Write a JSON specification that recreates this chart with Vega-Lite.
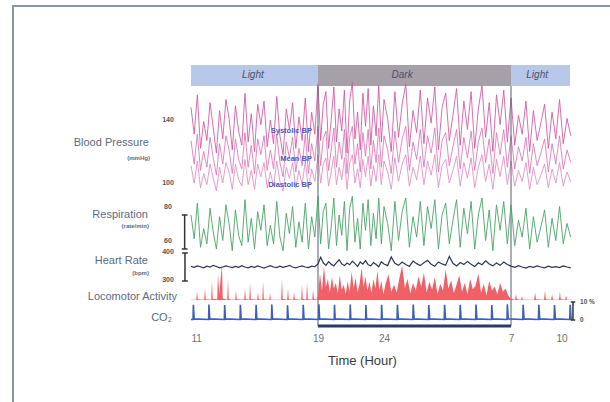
{
"$schema": "https://vega.github.io/schema/vega-lite/v6.json",
"width": 600, "height": 400,
"autosize": {"type": "none"},
"padding": {"left": 13, "top": 6, "right": 0, "bottom": 0},
"background": "white",
"config": {"view": {"stroke": "#8795a5", "strokeWidth": 2}, "font": "Liberation Sans"},
"datasets": {
"main": [
{"t":11.0,"s":148,"m":127,"d":111,"r":80,"h":352},
{"t":11.2,"s":131,"m":112,"d":100,"r":66,"h":349},
{"t":11.4,"s":156,"m":131,"d":114,"r":87,"h":354},
{"t":11.6,"s":122,"m":108,"d":97,"r":61,"h":351},
{"t":11.8,"s":139,"m":120,"d":106,"r":72,"h":347},
{"t":12.0,"s":127,"m":110,"d":99,"r":63,"h":353},
{"t":12.2,"s":151,"m":129,"d":112,"r":84,"h":350},
{"t":12.4,"s":135,"m":116,"d":103,"r":70,"h":356},
{"t":12.6,"s":119,"m":105,"d":95,"r":60,"h":352},
{"t":12.8,"s":146,"m":125,"d":110,"r":79,"h":347},
{"t":13.0,"s":128,"m":112,"d":100,"r":65,"h":350},
{"t":13.2,"s":153,"m":130,"d":113,"r":86,"h":354},
{"t":13.4,"s":141,"m":121,"d":107,"r":75,"h":351},
{"t":13.6,"s":121,"m":106,"d":96,"r":59,"h":348},
{"t":13.8,"s":149,"m":128,"d":112,"r":83,"h":352},
{"t":14.0,"s":133,"m":115,"d":102,"r":68,"h":349},
{"t":14.2,"s":124,"m":109,"d":98,"r":62,"h":355},
{"t":14.4,"s":157,"m":132,"d":115,"r":89,"h":350},
{"t":14.6,"s":126,"m":110,"d":99,"r":64,"h":347},
{"t":14.8,"s":144,"m":124,"d":108,"r":78,"h":352},
{"t":15.0,"s":120,"m":106,"d":96,"r":60,"h":349},
{"t":15.2,"s":150,"m":128,"d":112,"r":82,"h":354},
{"t":15.4,"s":137,"m":118,"d":104,"r":71,"h":350},
{"t":15.6,"s":152,"m":130,"d":113,"r":86,"h":346},
{"t":15.8,"s":123,"m":108,"d":97,"r":62,"h":351},
{"t":16.0,"s":140,"m":121,"d":107,"r":74,"h":355},
{"t":16.2,"s":125,"m":109,"d":98,"r":63,"h":350},
{"t":16.4,"s":155,"m":131,"d":114,"r":88,"h":348},
{"t":16.6,"s":130,"m":113,"d":101,"r":67,"h":353},
{"t":16.8,"s":118,"m":104,"d":95,"r":59,"h":349},
{"t":17.0,"s":147,"m":126,"d":110,"r":81,"h":352},
{"t":17.2,"s":134,"m":116,"d":103,"r":69,"h":356},
{"t":17.4,"s":151,"m":129,"d":113,"r":85,"h":350},
{"t":17.6,"s":122,"m":107,"d":97,"r":61,"h":347},
{"t":17.8,"s":142,"m":122,"d":108,"r":76,"h":351},
{"t":18.0,"s":127,"m":111,"d":99,"r":64,"h":354},
{"t":18.2,"s":154,"m":131,"d":114,"r":87,"h":350},
{"t":18.4,"s":120,"m":106,"d":96,"r":60,"h":348},
{"t":18.6,"s":145,"m":125,"d":109,"r":79,"h":353},
{"t":18.8,"s":131,"m":114,"d":101,"r":67,"h":351},
{"t":19.0,"s":163,"m":136,"d":118,"r":91,"h":361},
{"t":19.2,"s":127,"m":111,"d":100,"r":63,"h":385},
{"t":19.4,"s":150,"m":128,"d":112,"r":82,"h":365},
{"t":19.6,"s":158,"m":133,"d":116,"r":87,"h":356},
{"t":19.8,"s":122,"m":108,"d":98,"r":60,"h":369},
{"t":20.0,"s":140,"m":121,"d":107,"r":73,"h":360},
{"t":20.2,"s":161,"m":135,"d":117,"r":90,"h":354},
{"t":20.4,"s":126,"m":110,"d":99,"r":62,"h":366},
{"t":20.6,"s":147,"m":126,"d":110,"r":80,"h":376},
{"t":20.8,"s":133,"m":115,"d":102,"r":68,"h":361},
{"t":21.0,"s":159,"m":134,"d":116,"r":88,"h":355},
{"t":21.2,"s":119,"m":106,"d":96,"r":59,"h":364},
{"t":21.4,"s":152,"m":129,"d":113,"r":84,"h":358},
{"t":21.6,"s":164,"m":136,"d":118,"r":91,"h":371},
{"t":21.8,"s":128,"m":112,"d":100,"r":64,"h":362},
{"t":22.0,"s":145,"m":125,"d":109,"r":78,"h":352},
{"t":22.2,"s":121,"m":107,"d":97,"r":60,"h":368},
{"t":22.4,"s":157,"m":132,"d":115,"r":87,"h":360},
{"t":22.6,"s":136,"m":117,"d":104,"r":71,"h":373},
{"t":22.8,"s":160,"m":134,"d":117,"r":89,"h":358},
{"t":23.0,"s":124,"m":109,"d":98,"r":62,"h":354},
{"t":23.2,"s":149,"m":127,"d":111,"r":81,"h":366},
{"t":23.4,"s":130,"m":113,"d":101,"r":66,"h":359},
{"t":23.6,"s":162,"m":135,"d":118,"r":90,"h":351},
{"t":23.8,"s":126,"m":110,"d":99,"r":63,"h":369},
{"t":24.0,"s":153,"m":130,"d":114,"r":85,"h":361},
{"t":24.2,"s":141,"m":121,"d":107,"r":75,"h":355},
{"t":24.4,"s":120,"m":106,"d":96,"r":59,"h":386},
{"t":24.6,"s":158,"m":133,"d":116,"r":88,"h":363},
{"t":24.8,"s":129,"m":113,"d":101,"r":65,"h":356},
{"t":25.0,"s":150,"m":128,"d":112,"r":82,"h":368},
{"t":25.2,"s":163,"m":136,"d":118,"r":90,"h":359},
{"t":25.4,"s":123,"m":108,"d":98,"r":61,"h":352},
{"t":25.6,"s":146,"m":126,"d":110,"r":79,"h":371},
{"t":25.8,"s":132,"m":115,"d":102,"r":67,"h":362},
{"t":26.0,"s":159,"m":134,"d":117,"r":88,"h":355},
{"t":26.2,"s":125,"m":110,"d":99,"r":62,"h":365},
{"t":26.4,"s":154,"m":130,"d":114,"r":85,"h":374},
{"t":26.6,"s":138,"m":119,"d":105,"r":72,"h":360},
{"t":26.8,"s":161,"m":135,"d":118,"r":89,"h":353},
{"t":27.0,"s":121,"m":107,"d":97,"r":60,"h":368},
{"t":27.2,"s":148,"m":127,"d":111,"r":80,"h":361},
{"t":27.4,"s":157,"m":132,"d":115,"r":87,"h":356},
{"t":27.6,"s":127,"m":111,"d":100,"r":63,"h":388},
{"t":27.8,"s":143,"m":123,"d":108,"r":77,"h":363},
{"t":28.0,"s":160,"m":134,"d":117,"r":89,"h":354},
{"t":28.2,"s":124,"m":109,"d":98,"r":61,"h":366},
{"t":28.4,"s":152,"m":129,"d":113,"r":84,"h":359},
{"t":28.6,"s":134,"m":116,"d":103,"r":69,"h":370},
{"t":28.8,"s":158,"m":133,"d":116,"r":88,"h":360},
{"t":29.0,"s":122,"m":108,"d":97,"r":60,"h":352},
{"t":29.2,"s":147,"m":126,"d":110,"r":80,"h":365},
{"t":29.4,"s":162,"m":135,"d":118,"r":90,"h":358},
{"t":29.6,"s":129,"m":113,"d":101,"r":65,"h":372},
{"t":29.8,"s":151,"m":128,"d":112,"r":83,"h":361},
{"t":30.0,"s":120,"m":106,"d":96,"r":59,"h":354},
{"t":30.2,"s":156,"m":132,"d":115,"r":86,"h":364},
{"t":30.4,"s":137,"m":118,"d":104,"r":71,"h":356},
{"t":30.6,"s":159,"m":134,"d":117,"r":88,"h":368},
{"t":30.8,"s":126,"m":110,"d":99,"r":63,"h":359},
{"t":31.0,"s":154,"m":130,"d":114,"r":86,"h":353},
{"t":31.2,"s":124,"m":109,"d":98,"r":62,"h":349},
{"t":31.4,"s":143,"m":123,"d":108,"r":77,"h":355},
{"t":31.6,"s":131,"m":114,"d":101,"r":67,"h":350},
{"t":31.8,"s":152,"m":129,"d":113,"r":84,"h":346},
{"t":32.0,"s":120,"m":106,"d":96,"r":60,"h":352},
{"t":32.2,"s":146,"m":125,"d":110,"r":79,"h":349},
{"t":32.4,"s":127,"m":111,"d":99,"r":64,"h":354},
{"t":32.6,"s":138,"m":119,"d":105,"r":73,"h":350},
{"t":32.8,"s":150,"m":128,"d":112,"r":83,"h":347},
{"t":33.0,"s":122,"m":107,"d":97,"r":61,"h":353},
{"t":33.2,"s":145,"m":125,"d":109,"r":78,"h":349},
{"t":33.4,"s":128,"m":112,"d":100,"r":65,"h":351},
{"t":33.6,"s":153,"m":130,"d":113,"r":85,"h":348},
{"t":33.8,"s":125,"m":109,"d":98,"r":63,"h":354},
{"t":34.0,"s":141,"m":121,"d":107,"r":75,"h":350},
{"t":34.2,"s":130,"m":113,"d":101,"r":67,"h":347}
],
"act": [
{"t":11.0,"a":1},
{"t":11.33,"a":1},{"t":11.38,"a":22},{"t":11.43,"a":2},
{"t":11.83,"a":1},{"t":11.88,"a":30},{"t":11.93,"a":2},
{"t":12.27,"a":1},{"t":12.32,"a":50},{"t":12.37,"a":3},
{"t":12.65,"a":2},{"t":12.70,"a":70},{"t":12.78,"a":15},{"t":12.95,"a":95},{"t":13.0,"a":4},
{"t":13.28,"a":1},{"t":13.33,"a":55},{"t":13.38,"a":2},
{"t":13.78,"a":1},{"t":13.83,"a":25},{"t":13.88,"a":2},
{"t":14.35,"a":1},{"t":14.40,"a":30},{"t":14.45,"a":3},
{"t":14.67,"a":1},{"t":14.72,"a":45},{"t":14.77,"a":2},
{"t":15.17,"a":1},{"t":15.22,"a":20},{"t":15.27,"a":2},
{"t":15.49,"a":1},{"t":15.54,"a":48},{"t":15.59,"a":2},
{"t":15.93,"a":1},{"t":15.98,"a":18},{"t":16.03,"a":1},
{"t":16.68,"a":1},{"t":16.73,"a":55},{"t":16.78,"a":3},
{"t":17.06,"a":1},{"t":17.11,"a":30},{"t":17.16,"a":2},
{"t":17.44,"a":1},{"t":17.49,"a":22},{"t":17.54,"a":2},
{"t":17.94,"a":1},{"t":17.99,"a":42},{"t":18.04,"a":3},
{"t":18.26,"a":1},{"t":18.31,"a":48},{"t":18.36,"a":2},
{"t":18.64,"a":1},{"t":18.69,"a":28},{"t":18.74,"a":2},
{"t":18.95,"a":2},
{"t":19.0,"a":10},{"t":19.15,"a":70},{"t":19.3,"a":25},{"t":19.45,"a":88},{"t":19.6,"a":35},{"t":19.75,"a":55},{"t":19.9,"a":20},{"t":20.05,"a":60},{"t":20.2,"a":30},{"t":20.35,"a":45},
{"t":20.5,"a":18},{"t":20.65,"a":65},{"t":20.8,"a":28},{"t":20.95,"a":40},{"t":21.1,"a":15},{"t":21.25,"a":50},{"t":21.4,"a":22},{"t":21.55,"a":75},{"t":21.7,"a":30},{"t":21.85,"a":58},
{"t":22.0,"a":20},{"t":22.15,"a":42},{"t":22.3,"a":85},{"t":22.45,"a":35},{"t":22.6,"a":62},{"t":22.75,"a":25},{"t":22.9,"a":48},{"t":23.05,"a":18},{"t":23.2,"a":55},{"t":23.35,"a":30},
{"t":23.5,"a":78},{"t":23.65,"a":26},{"t":23.8,"a":50},{"t":23.95,"a":15},{"t":24.1,"a":45},{"t":24.25,"a":68},{"t":24.4,"a":22},{"t":24.55,"a":40},{"t":24.7,"a":20},{"t":24.85,"a":58},
{"t":25.0,"a":90},{"t":25.15,"a":32},{"t":25.3,"a":55},{"t":25.45,"a":18},{"t":25.6,"a":45},{"t":25.75,"a":25},{"t":25.9,"a":62},{"t":26.05,"a":35},{"t":26.2,"a":72},{"t":26.35,"a":20},
{"t":26.5,"a":48},{"t":26.65,"a":28},{"t":26.8,"a":60},{"t":26.95,"a":15},{"t":27.1,"a":42},{"t":27.25,"a":25},{"t":27.4,"a":80},{"t":27.55,"a":30},{"t":27.7,"a":52},{"t":27.85,"a":18},
{"t":28.0,"a":40},{"t":28.15,"a":65},{"t":28.3,"a":22},{"t":28.45,"a":45},{"t":28.6,"a":15},{"t":28.75,"a":55},{"t":28.9,"a":28},{"t":29.05,"a":38},{"t":29.2,"a":70},{"t":29.35,"a":20},
{"t":29.5,"a":42},{"t":29.65,"a":12},{"t":29.8,"a":50},{"t":29.95,"a":25},{"t":30.1,"a":35},{"t":30.25,"a":15},{"t":30.4,"a":45},{"t":30.55,"a":22},{"t":30.7,"a":30},{"t":30.85,"a":12},{"t":30.95,"a":5},
{"t":31.1,"a":2},
{"t":31.22,"a":1},{"t":31.27,"a":15},{"t":31.32,"a":2},
{"t":31.54,"a":1},{"t":31.59,"a":10},{"t":31.64,"a":1},
{"t":32.24,"a":1},{"t":32.29,"a":20},{"t":32.34,"a":2},
{"t":32.77,"a":1},{"t":32.82,"a":25},{"t":32.87,"a":2},
{"t":33.15,"a":1},{"t":33.20,"a":15},{"t":33.25,"a":1},
{"t":33.57,"a":1},{"t":33.62,"a":22},{"t":33.67,"a":2},
{"t":33.90,"a":1},{"t":33.95,"a":12},{"t":34.0,"a":1},
{"t":34.27,"a":1}
],
"co2": [
{"t":11.0,"c":0.3},
{"t":11.13,"c":0.3},{"t":11.15,"c":8.4},{"t":11.2,"c":0.6},
{"t":12.11,"c":0.3},{"t":12.13,"c":8.6},{"t":12.18,"c":0.6},
{"t":13.10,"c":0.3},{"t":13.12,"c":8.3},{"t":13.17,"c":0.6},
{"t":14.09,"c":0.3},{"t":14.11,"c":8.5},{"t":14.16,"c":0.6},
{"t":15.08,"c":0.3},{"t":15.10,"c":8.4},{"t":15.15,"c":0.6},
{"t":16.07,"c":0.3},{"t":16.09,"c":8.6},{"t":16.14,"c":0.6},
{"t":17.06,"c":0.3},{"t":17.08,"c":8.2},{"t":17.13,"c":0.6},
{"t":18.05,"c":0.3},{"t":18.07,"c":8.5},{"t":18.12,"c":0.6},
{"t":19.05,"c":0.3},{"t":19.07,"c":8.7},{"t":19.12,"c":0.6},
{"t":20.23,"c":0.3},{"t":20.25,"c":8.4},{"t":20.30,"c":0.6},
{"t":21.42,"c":0.3},{"t":21.44,"c":8.6},{"t":21.49,"c":0.6},
{"t":22.61,"c":0.3},{"t":22.63,"c":8.3},{"t":22.68,"c":0.6},
{"t":23.80,"c":0.3},{"t":23.82,"c":8.5},{"t":23.87,"c":0.6},
{"t":24.72,"c":0.3},{"t":24.74,"c":8.4},{"t":24.79,"c":0.6},
{"t":25.59,"c":0.3},{"t":25.61,"c":8.6},{"t":25.66,"c":0.6},
{"t":26.45,"c":0.3},{"t":26.47,"c":8.3},{"t":26.52,"c":0.6},
{"t":27.32,"c":0.3},{"t":27.34,"c":8.5},{"t":27.39,"c":0.6},
{"t":28.18,"c":0.3},{"t":28.20,"c":8.4},{"t":28.25,"c":0.6},
{"t":29.05,"c":0.3},{"t":29.07,"c":8.6},{"t":29.12,"c":0.6},
{"t":29.92,"c":0.3},{"t":29.94,"c":8.3},{"t":29.99,"c":0.6},
{"t":30.78,"c":0.3},{"t":30.80,"c":8.7},{"t":30.85,"c":0.6},
{"t":31.63,"c":0.3},{"t":31.65,"c":8.4},{"t":31.70,"c":0.6},
{"t":32.47,"c":0.3},{"t":32.49,"c":8.5},{"t":32.54,"c":0.6},
{"t":33.31,"c":0.3},{"t":33.33,"c":8.3},{"t":33.38,"c":0.6},
{"t":34.15,"c":0.3},{"t":34.17,"c":8.5},{"t":34.22,"c":0.6},
{"t":34.27,"c":0.3}
]
},
"encoding": {
"x": {"field": "t", "type": "quantitative",
"scale": {"domain": [11, 19, 24, 31, 34], "range": [178, 305, 371, 498, 554]},
"axis": {"values": [11, 19, 24, 31, 34], "labelExpr": "datum.value > 24 ? datum.value - 24 : datum.value",
"offset": -74, "domain": false, "ticks": false, "grid": false, "labelPadding": 1, "labelFontSize": 10, "labelColor": "#707070",
"title": "Time (Hour)", "titleFontSize": 13, "titleFontWeight": "normal", "titleColor": "#3a3a3a", "titlePadding": 11, "titleX": 349}}
},
"layer": [
{
"layer": [
{"data": {"values": [{"t":11,"t2":19,"p":"Light"},{"t":19,"t2":31,"p":"Dark"},{"t":31,"t2":34.16,"p":"Light"}]},
"mark": {"type": "rect"},
"encoding": {"x2": {"field": "t2"},
"y": {"datum": 161.6, "type": "quantitative", "scale": {"domain": [-41.6, 212.4]}, "axis": null},
"y2": {"datum": 174.9},
"color": {"field": "p", "type": "nominal", "scale": {"domain": ["Light", "Dark"], "range": ["#b8c8ea", "#a6a1a8"]}, "legend": null}}},
{"data": {"values": [{"t":14.9,"p":"Light","y":168.6},{"t":25.0,"p":"Dark","y":168.6},{"t":32.4,"p":"Light","y":168.6}]},
"mark": {"type": "text", "fontStyle": "italic", "fontSize": 10, "color": "#4a5068", "baseline": "middle"},
"encoding": {"y": {"field": "y", "type": "quantitative", "scale": {"domain": [-41.6, 212.4]}, "axis": null}, "text": {"field": "p"}}},
{"data": {"name": "main"}, "mark": {"type": "line", "color": "#e48bc2", "strokeWidth": 1, "opacity": 0.85},
"encoding": {"y": {"field": "d", "type": "quantitative", "scale": {"domain": [-41.6, 212.4]}, "axis": null}}},
{"data": {"name": "main"}, "mark": {"type": "line", "color": "#de74b6", "strokeWidth": 1, "opacity": 0.85},
"encoding": {"y": {"field": "m", "type": "quantitative", "scale": {"domain": [-41.6, 212.4]}, "axis": null}}},
{"data": {"name": "main"}, "mark": {"type": "line", "color": "#d4559f", "strokeWidth": 1, "opacity": 0.85},
"encoding": {"y": {"field": "s", "type": "quantitative", "scale": {"domain": [-41.6, 212.4]}, "axis": null}}},
{"data": {"values": [{"t":19},{"t":31}]}, "mark": {"type": "rule", "color": "#555b66", "strokeWidth": 1},
"encoding": {"y": {"datum": 9.2, "type": "quantitative", "scale": {"domain": [-41.6, 212.4]}, "axis": null}, "y2": {"datum": 161.6}}},
{"data": {"values": [{"t":18.62,"y":133,"lab":"Systolic BP"},{"t":18.62,"y":115.2,"lab":"Mean BP"},{"t":18.62,"y":98.7,"lab":"Diastolic BP"}]},
"mark": {"type": "text", "align": "right", "baseline": "middle", "fontSize": 7.5, "fontWeight": "bold", "color": "#4856c8"},
"encoding": {"y": {"field": "y", "type": "quantitative", "scale": {"domain": [-41.6, 212.4]}, "axis": null}, "text": {"field": "lab"}}},
{"data": {"values": [{"t":9.55,"y":140,"lab":"140"},{"t":9.55,"y":100,"lab":"100"}]},
"mark": {"type": "text", "align": "center", "baseline": "middle", "fontSize": 7, "fontWeight": "bold", "color": "#555555"},
"encoding": {"y": {"field": "y", "type": "quantitative", "scale": {"domain": [-41.6, 212.4]}, "axis": null}, "text": {"field": "lab"}}},
{"data": {"values": [{"t":8.35,"y":125.4,"lab":"Blood Pressure"}]},
"mark": {"type": "text", "align": "right", "baseline": "middle", "fontSize": 11, "color": "#5a6a85"},
"encoding": {"y": {"field": "y", "type": "quantitative", "scale": {"domain": [-41.6, 212.4]}, "axis": null}, "text": {"field": "lab"}}},
{"data": {"values": [{"t":8.41,"y":115.9,"lab":"(mmHg)"}]},
"mark": {"type": "text", "align": "right", "baseline": "middle", "fontSize": 6, "fontWeight": "bold", "color": "#5a6a85"},
"encoding": {"y": {"field": "y", "type": "quantitative", "scale": {"domain": [-41.6, 212.4]}, "axis": null}, "text": {"field": "lab"}}}
]
},
{
"layer": [
{"data": {"name": "main"}, "mark": {"type": "line", "color": "#47a466", "strokeWidth": 1, "opacity": 0.9},
"encoding": {"y": {"field": "r", "type": "quantitative", "scale": {"domain": [-32.35, 202.94]}, "axis": null}}},
{"data": {"values": [{"t":10.6,"y":60,"y2":80}]}, "mark": {"type": "rule", "color": "#333333", "strokeWidth": 1.5},
"encoding": {"y": {"field": "y", "type": "quantitative", "scale": {"domain": [-32.35, 202.94]}, "axis": null}, "y2": {"field": "y2"}}},
{"data": {"values": [{"t":10.42,"t2":10.78,"y":60},{"t":10.42,"t2":10.78,"y":80}]}, "mark": {"type": "rule", "color": "#333333", "strokeWidth": 1.5},
"encoding": {"x2": {"field": "t2"}, "y": {"field": "y", "type": "quantitative", "scale": {"domain": [-32.35, 202.94]}, "axis": null}}},
{"data": {"values": [{"t":9.55,"y":80,"lab":"80"},{"t":9.55,"y":60,"lab":"60"}]},
"mark": {"type": "text", "align": "center", "baseline": "middle", "dy": -8, "fontSize": 7, "fontWeight": "bold", "color": "#555555"},
"encoding": {"y": {"field": "y", "type": "quantitative", "scale": {"domain": [-32.35, 202.94]}, "axis": null}, "text": {"field": "lab"}}},
{"data": {"values": [{"t":8.29,"y":80,"lab":"Respiration"}]},
"mark": {"type": "text", "align": "right", "baseline": "middle", "fontSize": 11, "color": "#5a6a85"},
"encoding": {"y": {"field": "y", "type": "quantitative", "scale": {"domain": [-32.35, 202.94]}, "axis": null}, "text": {"field": "lab"}}},
{"data": {"values": [{"t":8.35,"y":73.5,"lab":"(rate/min)"}]},
"mark": {"type": "text", "align": "right", "baseline": "middle", "fontSize": 6, "fontWeight": "bold", "color": "#5a6a85"},
"encoding": {"y": {"field": "y", "type": "quantitative", "scale": {"domain": [-32.35, 202.94]}, "axis": null}, "text": {"field": "lab"}}}
]
},
{
"layer": [
{"data": {"name": "main"}, "mark": {"type": "line", "color": "#2c3654", "strokeWidth": 1.2},
"encoding": {"y": {"field": "h", "type": "quantitative", "scale": {"domain": [-146.4, 1282.1]}, "axis": null}}},
{"data": {"values": [{"t":10.62,"y":300,"y2":400}]}, "mark": {"type": "rule", "color": "#333333", "strokeWidth": 1.5},
"encoding": {"y": {"field": "y", "type": "quantitative", "scale": {"domain": [-146.4, 1282.1]}, "axis": null}, "y2": {"field": "y2"}}},
{"data": {"values": [{"t":10.44,"t2":10.8,"y":300},{"t":10.44,"t2":10.8,"y":400}]}, "mark": {"type": "rule", "color": "#333333", "strokeWidth": 1.5},
"encoding": {"x2": {"field": "t2"}, "y": {"field": "y", "type": "quantitative", "scale": {"domain": [-146.4, 1282.1]}, "axis": null}}},
{"data": {"values": [{"t":9.55,"y":400,"lab":"400"},{"t":9.55,"y":300,"lab":"300"}]},
"mark": {"type": "text", "align": "center", "baseline": "middle", "dy": -1, "fontSize": 7, "fontWeight": "bold", "color": "#555555"},
"encoding": {"y": {"field": "y", "type": "quantitative", "scale": {"domain": [-146.4, 1282.1]}, "axis": null}, "text": {"field": "lab"}}},
{"data": {"values": [{"t":8.29,"y":371.4,"lab":"Heart Rate"}]},
"mark": {"type": "text", "align": "right", "baseline": "middle", "fontSize": 11, "color": "#5a6a85"},
"encoding": {"y": {"field": "y", "type": "quantitative", "scale": {"domain": [-146.4, 1282.1]}, "axis": null}, "text": {"field": "lab"}}},
{"data": {"values": [{"t":8.35,"y":328.5,"lab":"(bpm)"}]},
"mark": {"type": "text", "align": "right", "baseline": "middle", "fontSize": 6, "fontWeight": "bold", "color": "#5a6a85"},
"encoding": {"y": {"field": "y", "type": "quantitative", "scale": {"domain": [-146.4, 1282.1]}, "axis": null}, "text": {"field": "lab"}}}
]
},
{
"layer": [
{"data": {"name": "act"}, "mark": {"type": "area", "color": "#f0525a", "opacity": 0.92},
"encoding": {"y": {"field": "a", "type": "quantitative", "scale": {"domain": [-278.9, 773.7]}, "axis": null}}},
{"data": {"values": [{"t":10.12,"y":7.9,"lab":"Locomotor Activity"}]},
"mark": {"type": "text", "align": "right", "baseline": "middle", "fontSize": 11, "color": "#5a6a85"},
"encoding": {"y": {"field": "y", "type": "quantitative", "scale": {"domain": [-278.9, 773.7]}, "axis": null}, "text": {"field": "lab"}}}
]
},
{
"layer": [
{"data": {"name": "co2"}, "mark": {"type": "line", "color": "#3d5fb5", "strokeWidth": 1.6},
"encoding": {"y": {"field": "c", "type": "quantitative", "scale": {"domain": [-47.78, 174.44]}, "axis": null}}},
{"data": {"values": [{"t":19,"t2":31,"y":-3.3}]}, "mark": {"type": "rule", "color": "#2d3a66", "strokeWidth": 3},
"encoding": {"x2": {"field": "t2"}, "y": {"field": "y", "type": "quantitative", "scale": {"domain": [-47.78, 174.44]}, "axis": null}}},
{"data": {"values": [{"t":34.32,"y":0,"y2":10}]}, "mark": {"type": "rule", "color": "#333333", "strokeWidth": 1.5},
"encoding": {"y": {"field": "y", "type": "quantitative", "scale": {"domain": [-47.78, 174.44]}, "axis": null}, "y2": {"field": "y2"}}},
{"data": {"values": [{"t":34.2,"t2":34.44,"y":0},{"t":34.2,"t2":34.44,"y":10}]}, "mark": {"type": "rule", "color": "#333333", "strokeWidth": 1.5},
"encoding": {"x2": {"field": "t2"}, "y": {"field": "y", "type": "quantitative", "scale": {"domain": [-47.78, 174.44]}, "axis": null}}},
{"data": {"values": [{"t":34.7,"y":10,"lab":"10 %"},{"t":34.7,"y":0,"lab":"0"}]},
"mark": {"type": "text", "align": "left", "baseline": "middle", "fontSize": 6.5, "fontWeight": "bold", "color": "#555555"},
"encoding": {"y": {"field": "y", "type": "quantitative", "scale": {"domain": [-47.78, 174.44]}, "axis": null}, "text": {"field": "lab"}}},
{"data": {"values": [{"t":9.8,"y":1.1,"lab":"CO₂"}]},
"mark": {"type": "text", "align": "right", "baseline": "middle", "fontSize": 11, "color": "#5a6a85"},
"encoding": {"y": {"field": "y", "type": "quantitative", "scale": {"domain": [-47.78, 174.44]}, "axis": null}, "text": {"field": "lab"}}}
]
}
],
"resolve": {"scale": {"y": "independent"}}
}
